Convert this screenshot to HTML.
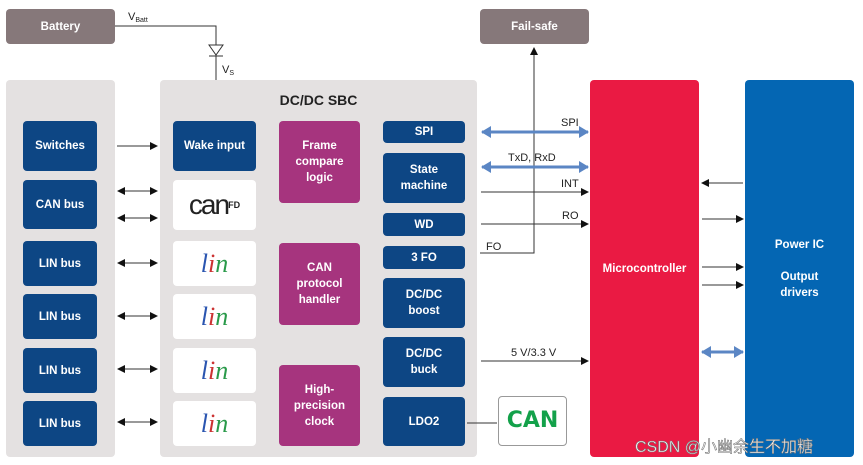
<!DOCTYPE html>
<html><head><meta charset="utf-8"><style>
body{margin:0;width:863px;height:465px;background:#fff;overflow:hidden;position:relative;font-family:"Liberation Sans","Noto Sans CJK SC",sans-serif}
.b{position:absolute;display:flex;align-items:center;justify-content:center;text-align:center;color:#fff;font-size:11.5px;font-weight:bold;line-height:16px;border-radius:4px;box-sizing:border-box}
.n{background:#0d4684}.p{background:#a6347e}.g{background:#e4e1e1}.w{background:#fff}.br{background:#86787a}
.lin{font-family:"Liberation Serif",serif;font-style:italic;font-size:26px;font-weight:normal}
</style></head><body>
<div class="b br" style="left:6px;top:9px;width:109px;height:35px">Battery</div>
<div class="b br" style="left:480px;top:9px;width:109px;height:35px">Fail-safe</div>
<div class="b g" style="left:6px;top:80px;width:109px;height:377px"></div>
<div class="b g" style="left:160px;top:80px;width:317px;height:377px;align-items:flex-start;padding-top:12px;color:#222;font-size:14px">DC/DC SBC</div>
<div class="b" style="left:590px;top:80px;width:109px;height:377px;background:#ea1a43">Microcontroller</div>
<div class="b" style="left:745px;top:80px;width:109px;height:377px;background:#0466b3;flex-direction:column">Power IC<br><br>Output<br>drivers</div>

<div class="b n" style="left:23px;top:121px;width:74px;height:50px">Switches</div>
<div class="b n" style="left:23px;top:180px;width:74px;height:49px">CAN bus</div>
<div class="b n" style="left:23px;top:241px;width:74px;height:45px">LIN bus</div>
<div class="b n" style="left:23px;top:294px;width:74px;height:45px">LIN bus</div>
<div class="b n" style="left:23px;top:348px;width:74px;height:45px">LIN bus</div>
<div class="b n" style="left:23px;top:401px;width:74px;height:45px">LIN bus</div>

<div class="b n" style="left:173px;top:121px;width:83px;height:50px">Wake input</div>
<div class="b w" style="left:173px;top:180px;width:83px;height:50px;color:#222;font-weight:normal;font-size:28px;letter-spacing:-2px">can<sup style="font-size:9px;font-weight:bold;letter-spacing:0">FD</sup></div>
<div class="b w lin" style="left:173px;top:241px;width:83px;height:45px"><span style="color:#2a55b0">l</span><span style="color:#c33">i</span><span style="color:#2a9a4a">n</span></div>
<div class="b w lin" style="left:173px;top:294px;width:83px;height:45px"><span style="color:#2a55b0">l</span><span style="color:#c33">i</span><span style="color:#2a9a4a">n</span></div>
<div class="b w lin" style="left:173px;top:348px;width:83px;height:45px"><span style="color:#2a55b0">l</span><span style="color:#c33">i</span><span style="color:#2a9a4a">n</span></div>
<div class="b w lin" style="left:173px;top:401px;width:83px;height:45px"><span style="color:#2a55b0">l</span><span style="color:#c33">i</span><span style="color:#2a9a4a">n</span></div>

<div class="b p" style="left:279px;top:121px;width:81px;height:82px">Frame<br>compare<br>logic</div>
<div class="b p" style="left:279px;top:243px;width:81px;height:82px">CAN<br>protocol<br>handler</div>
<div class="b p" style="left:279px;top:365px;width:81px;height:81px">High-<br>precision<br>clock</div>

<div class="b n" style="left:383px;top:121px;width:82px;height:22px">SPI</div>
<div class="b n" style="left:383px;top:153px;width:82px;height:50px">State<br>machine</div>
<div class="b n" style="left:383px;top:213px;width:82px;height:23px">WD</div>
<div class="b n" style="left:383px;top:246px;width:82px;height:23px">3 FO</div>
<div class="b n" style="left:383px;top:278px;width:82px;height:50px">DC/DC<br>boost</div>
<div class="b n" style="left:383px;top:337px;width:82px;height:50px">DC/DC<br>buck</div>
<div class="b n" style="left:383px;top:397px;width:82px;height:49px">LDO2</div>
<div class="b w" style="left:498px;top:396px;width:69px;height:50px;border:1px solid #999;color:#13a14a;font-size:22px;font-family:'DejaVu Sans',sans-serif">CAN</div>

<svg width="863" height="465" style="position:absolute;left:0;top:0" font-family="Liberation Sans,sans-serif" font-size="11" fill="#222">
<defs>
<marker id="a" markerWidth="8" markerHeight="8" refX="7" refY="4" orient="auto-start-reverse" markerUnits="userSpaceOnUse"><path d="M0,0L8,4L0,8z" fill="#111"/></marker>
<marker id="bl" markerWidth="10" markerHeight="12" refX="9" refY="6" orient="auto-start-reverse" markerUnits="userSpaceOnUse"><path d="M0,0L10,6L0,12z" fill="#5b86c4"/></marker>
</defs>
<g stroke="#333" stroke-width="1" fill="none">
<path d="M115 26H216V80"/>
<path d="M209 45H223L216 55z" fill="#fff"/><path d="M209 56H223"/>
<line x1="117" y1="146" x2="157" y2="146" marker-end="url(#a)"/>
<line x1="118" y1="191" x2="157" y2="191" marker-start="url(#a)" marker-end="url(#a)"/>
<line x1="118" y1="218" x2="157" y2="218" marker-start="url(#a)" marker-end="url(#a)"/>
<line x1="118" y1="263" x2="157" y2="263" marker-start="url(#a)" marker-end="url(#a)"/>
<line x1="118" y1="316" x2="157" y2="316" marker-start="url(#a)" marker-end="url(#a)"/>
<line x1="118" y1="369" x2="157" y2="369" marker-start="url(#a)" marker-end="url(#a)"/>
<line x1="118" y1="422" x2="157" y2="422" marker-start="url(#a)" marker-end="url(#a)"/>
<path d="M480 253H534V48" marker-end="url(#a)"/>
<line x1="481" y1="192" x2="588" y2="192" marker-end="url(#a)"/>
<line x1="481" y1="224" x2="588" y2="224" marker-end="url(#a)"/>
<line x1="481" y1="361" x2="588" y2="361" marker-end="url(#a)"/>
<line x1="467" y1="423" x2="497" y2="423"/>
<line x1="743" y1="183" x2="702" y2="183" marker-end="url(#a)"/>
<line x1="702" y1="219" x2="743" y2="219" marker-end="url(#a)"/>
<line x1="702" y1="267" x2="743" y2="267" marker-end="url(#a)"/>
<line x1="702" y1="285" x2="743" y2="285" marker-end="url(#a)"/>
</g>
<g stroke="#5b86c4" stroke-width="3">
<line x1="482" y1="132" x2="588" y2="132" marker-start="url(#bl)" marker-end="url(#bl)"/>
<line x1="482" y1="167" x2="588" y2="167" marker-start="url(#bl)" marker-end="url(#bl)"/>
<line x1="702" y1="352" x2="743" y2="352" marker-start="url(#bl)" marker-end="url(#bl)"/>
</g>
<text x="128" y="20">V<tspan font-size="7" dy="2">Batt</tspan></text>
<text x="222" y="73">V<tspan font-size="7" dy="2">S</tspan></text>
<text x="561" y="126">SPI</text>
<text x="508" y="161">TxD, RxD</text>
<text x="561" y="187">INT</text>
<text x="562" y="219">RO</text>
<text x="486" y="250">FO</text>
<text x="511" y="356">5 V/3.3 V</text>
<text x="635" y="452" font-size="16" fill="#fff" stroke="#777" stroke-width="0.6" font-family="Liberation Sans,Noto Sans CJK SC,sans-serif">CSDN @小幽余生不加糖</text>
</svg>
</body></html>
